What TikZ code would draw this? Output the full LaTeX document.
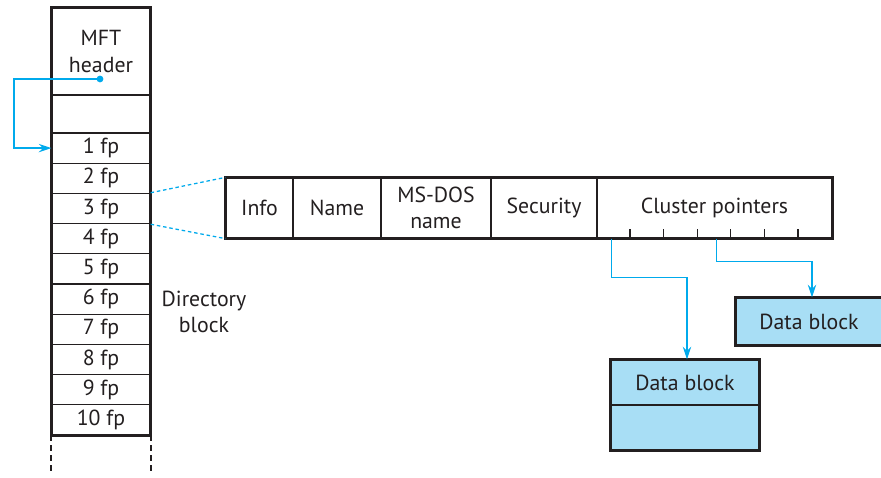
\documentclass[tikz,border=0pt]{standalone}
\usepackage{fontspec}
\setmainfont{PT Sans}
\usetikzlibrary{arrows,arrows.meta,calc,positioning}
\definecolor{ptrblue}{RGB}{0,170,236}
\definecolor{blockfill}{RGB}{168,222,245}
\definecolor{ink}{RGB}{35,31,32}

\begin{document}
\begin{tikzpicture}[
  x=0.025cm, y=-0.025cm,
  every node/.style={font=\fontsize{15.5}{19}\selectfont, text=ink},
  cell/.style={draw=ink, line width=0.9pt, minimum width=98*0.025cm,
               minimum height=#1*0.025cm, inner sep=0pt, align=center},
  field/.style={draw=ink, line width=0.9pt, minimum width=#1*0.025cm,
                minimum height=60*0.025cm, inner sep=0pt, align=center},
  dblock/.style={draw=ink, line width=0.9pt, fill=blockfill, minimum width=#1*0.025cm,
                 minimum height=45*0.025cm, inner sep=0pt},
  ptr/.style={-{Stealth[length=9pt, width=6pt, inset=3pt]}, draw=ptrblue, line width=0.9pt},
  link/.style={draw=ptrblue, line width=0.9pt, dash pattern=on 2.5pt off 2pt},
]
\useasboundingbox (0,0) rectangle (881,478);

%% ── MFT column ──────────────────────────────────────────────────────────
\node[cell=87] (hdr)   at (101, 51.5) {MFT\\header};
\node[cell=38] (blank) at (101, 114)  {};
\foreach \i in {1,...,10}
  \node[cell=30.2] (fp\i) at (101, {148.1+30.2*(\i-1)}) {\i\ fp};
\draw[ink, line width=1.6pt] (hdr.north west) rectangle (fp10.south east);
\draw[ink, line width=1.6pt, dash pattern=on 4pt off 3pt]
  (fp10.south west) -- ++(0,37) (fp10.south east) -- ++(0,37);

\node[align=center] (dir) at (204, 312) {Directory\\block};

%% ── header pointer back into the column ─────────────────────────────────
\coordinate (dot) at (100, 79);
\fill[ptrblue] (dot) circle (2.4pt);
\draw[ptr] (dot) -- ++(-86,0) |- (fp1.west);

%% ── File record ─────────────────────────────────────────────────────────
\node[field=67]  (info)  at (259.5, 208) {Info};
\node[field=88]  (name)  at (337, 208)   {Name};
\node[field=110] (msdos) at (436, 208)   {MS-DOS\\name};
\node[field=106] (sec)   at (544, 208)   {Security};
\node[field=235] (clus)  at (714.5, 208) {Cluster pointers};
\draw[ink, line width=1.6pt] (info.north west) rectangle (clus.south east);
\foreach \k in {1,...,6}
  \draw[ink, line width=0.8pt] ($(clus.south west)+(33.6*\k,0)$) -- ++(0,-10);

\draw[link] (fp3.north east) -- (info.north west);
\draw[link] (fp3.south east) -- (info.south west);

%% ── Data blocks ─────────────────────────────────────────────────────────
\node[dblock=148] (db1)  at (685, 382.5) {Data block};
\node[dblock=148] (db1b) at (685, 427.5) {};
\draw[ink, line width=1.6pt] (db1.north west) rectangle (db1b.south east);
\node[dblock=146, minimum height=47*0.025cm] (db2) at (809, 321.5) {Data block};
\draw[ink, line width=1.6pt] (db2.north west) rectangle (db2.south east);

\draw[ptr] ($(clus.south west)+(15,0)$) -- ++(0,39) -| ($(db1.north)+(2,0)$);
\draw[ptr] ($(clus.south west)+(120,0)$) -- ++(0,23) -| ($(db2.north)+(3,0)$);
\end{tikzpicture}
\end{document}
